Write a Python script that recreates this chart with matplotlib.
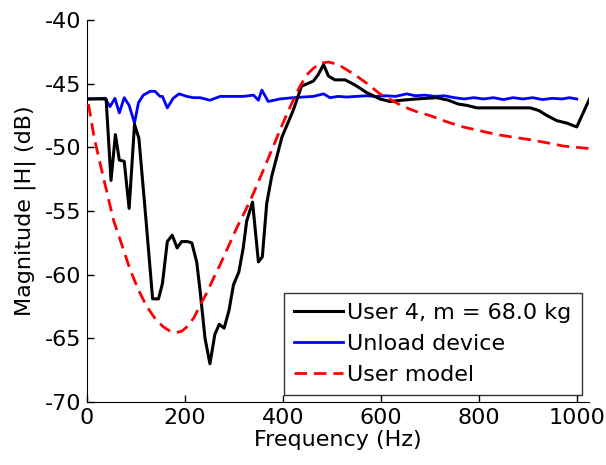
import matplotlib
matplotlib.use("Agg")
import matplotlib.pyplot as plt

plt.rcParams['font.family'] = ['DejaVu Sans']
plt.rcParams['axes.unicode_minus'] = False

freq_user = [4, 39, 49, 58, 66, 76, 86, 97, 106, 120, 134, 146, 154, 164, 174, 184, 193, 205, 214,
             224, 231, 241, 251, 261, 270, 280, 290, 299, 310, 319, 326, 338, 350, 358, 367, 377,
             398, 421, 438, 462, 472, 483, 493, 506, 527, 547, 571, 598, 619, 643, 673, 714, 738,
             758, 775, 796, 809, 905, 922, 939, 959, 980, 1000, 1026]
mag_user = [-46.2, -46.2, -52.6, -49.0, -51.0, -51.1, -54.8, -48.2, -49.3, -55.5, -61.9, -61.9,
            -60.7, -57.4, -56.9, -57.9, -57.4, -57.4, -57.5, -59.0, -61.3, -65.0, -67.0, -64.7,
            -63.9, -64.2, -62.8, -60.8, -59.8, -57.9, -55.8, -54.3, -59.0, -58.6, -54.4, -52.3,
            -49.2, -47.1, -45.2, -44.8, -44.3, -43.5, -44.4, -44.7, -44.7, -45.1, -45.7, -46.2,
            -46.4, -46.3, -46.2, -46.1, -46.3, -46.6, -46.7, -46.9, -46.9, -46.9, -47.1, -47.5,
            -47.9, -48.1, -48.4, -46.2]

freq_unload = [4, 37, 47, 57, 66, 76, 86, 97, 105, 115, 129, 139, 149, 154, 164, 176, 188, 204,
               217, 231, 251, 272, 292, 319, 340, 350, 357, 370, 394, 421, 462, 483, 496, 513,
               530, 550, 570, 590, 610, 630, 653, 670, 690, 710, 730, 750, 770, 790, 810, 830,
               850, 870, 890, 910, 930, 950, 970, 985, 1000]
mag_unload = [-46.2, -46.15, -46.8, -46.15, -47.3, -46.1, -46.7, -48.1, -46.5, -45.9, -45.6,
              -45.6, -46.0, -46.0, -46.9, -46.15, -45.8, -46.0, -46.1, -46.1, -46.3, -46.0, -46.0,
              -46.0, -45.9, -46.3, -45.5, -46.4, -46.2, -46.1, -46.0, -45.8, -46.1, -46.0, -46.05,
              -46.0, -45.95, -46.0, -45.95, -46.0, -45.8, -45.95, -45.9, -46.0, -45.95, -46.1,
              -46.2, -46.1, -46.2, -46.1, -46.25, -46.1, -46.2, -46.1, -46.25, -46.15, -46.2,
              -46.1, -46.2]

freq_model = [3, 15, 30, 54, 68, 88, 105, 122, 140, 156, 170, 181, 193, 204, 218, 231, 245, 258,
              272, 285, 306, 323, 340, 360, 380, 400, 421, 435, 449, 462, 476, 493, 513, 530,
              547, 572, 598, 622, 646, 673, 700, 735, 768, 803, 837, 870, 905, 940, 973, 1000, 1027]
mag_model = [-46.6, -49.3, -51.8, -55.7, -57.3, -59.6, -61.2, -62.5, -63.5, -64.1, -64.45, -64.55,
             -64.45, -64.1, -63.4, -62.4, -61.4, -60.3, -59.2, -58.1, -56.3, -55.0, -53.6, -51.8,
             -49.95, -48.1, -46.3, -45.2, -44.3, -43.8, -43.4, -43.3, -43.5, -43.9, -44.3, -45.0,
             -45.8, -46.3, -46.8, -47.2, -47.5, -48.0, -48.4, -48.7, -49.0, -49.2, -49.4, -49.65,
             -49.9, -50.0, -50.1]

fig = plt.figure(figsize=(6.06, 4.65), dpi=100)
ax = fig.add_axes([87/606, 1 - 402/465, (589 - 87)/606, (402 - 20)/465])

ax.plot(freq_user, mag_user, color='black', lw=2.2, label='User 4, m = 68.0 kg', zorder=3)
ax.plot(freq_unload, mag_unload, color='#0000ff', lw=2.0, label='Unload device', zorder=2)
ax.plot(freq_model, mag_model, color='#ff0000', lw=2.0, dashes=(4.5, 2.5),
        label='User model', zorder=4)

ax.set_xlim(0, 1025)
ax.set_ylim(-70, -40)
ax.set_xticks([0, 200, 400, 600, 800, 1000])
ax.set_yticks([-70, -65, -60, -55, -50, -45, -40])
ax.spines['top'].set_visible(False)
ax.spines['right'].set_visible(False)
ax.tick_params(direction='in', length=5, labelsize=16, width=1, pad=4)
ax.set_xlabel('Frequency (Hz)', fontsize=16, labelpad=2)
ax.set_ylabel('Magnitude |H| (dB)', fontsize=16, labelpad=6)

leg = ax.legend(loc='lower right', bbox_to_anchor=((581.7 - 87)/502, (402 - 395)/382),
                fontsize=16, frameon=True, fancybox=False, edgecolor='black',
                handlelength=2.2, handletextpad=0.2, borderpad=0.45, labelspacing=0.5,
                borderaxespad=0)
leg.get_frame().set_linewidth(1.0)

fig.savefig('out.png', dpi=100)
